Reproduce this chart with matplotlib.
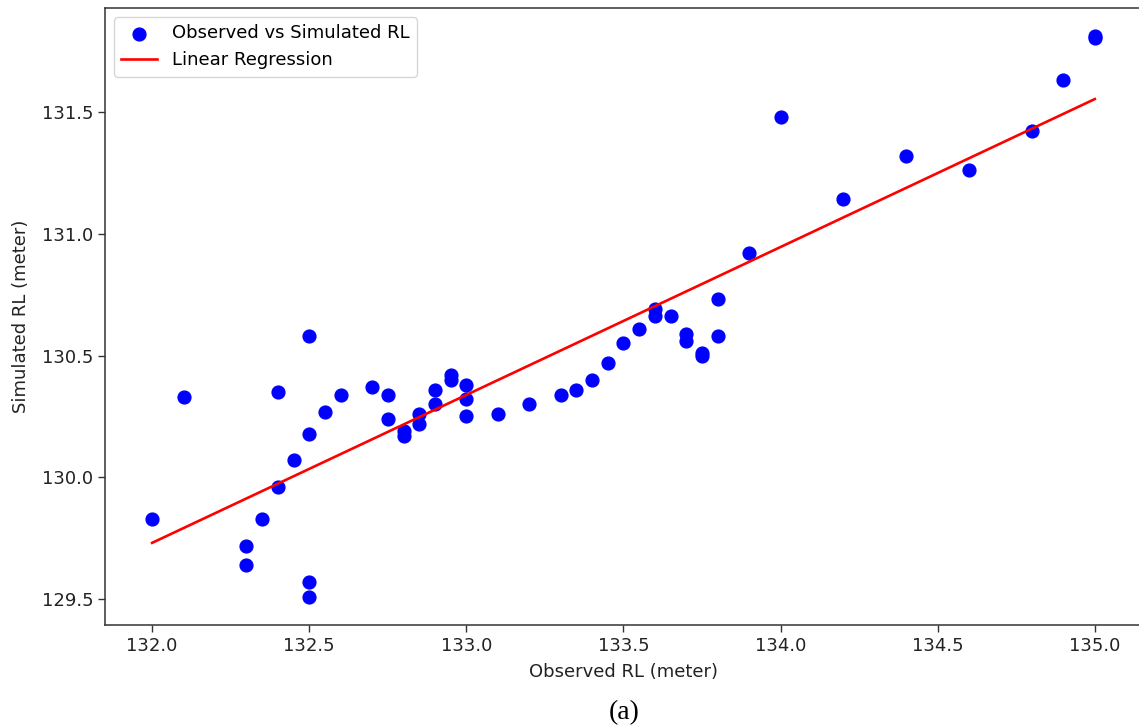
import numpy as np
import matplotlib
matplotlib.use('Agg')
import matplotlib.pyplot as plt


# observed vs simulated reduced level (meter)
observed = [132.0, 132.1, 132.3, 132.3, 132.35, 132.4, 132.4, 132.45,
            132.5, 132.5, 132.5, 132.5, 132.55, 132.6, 132.7, 132.75,
            132.75, 132.8, 132.8, 132.85, 132.85, 132.9, 132.9, 132.95,
            132.95, 133.0, 133.0, 133.0, 133.1, 133.2, 133.3, 133.35,
            133.4, 133.45, 133.5, 133.55, 133.6, 133.6, 133.65, 133.7,
            133.7, 133.75, 133.75, 133.8, 133.8, 133.9, 134.0, 134.2,
            134.4, 134.6, 134.8, 134.9, 135.0, 135.0]
simulated = [129.83, 130.33, 129.72, 129.64, 129.83, 130.35, 129.96, 130.07,
             130.58, 130.18, 129.57, 129.51, 130.27, 130.34, 130.37, 130.34,
             130.24, 130.19, 130.17, 130.26, 130.22, 130.36, 130.30, 130.42,
             130.40, 130.38, 130.32, 130.25, 130.26, 130.30, 130.34, 130.36,
             130.40, 130.47, 130.55, 130.61, 130.69, 130.66, 130.66, 130.59,
             130.56, 130.51, 130.50, 130.73, 130.58, 130.92, 131.48, 131.14,
             131.32, 131.26, 131.42, 131.63, 131.81, 131.80]

x = np.array(observed)
y = np.array(simulated)

# linear regression
slope, intercept = np.polyfit(x, y, 1)
y_pred = slope * x + intercept

plt.rcParams['font.family'] = 'DejaVu Sans'

fig = plt.figure(figsize=(11.39, 7.28), dpi=100)
ax = fig.add_axes([0.0922, 0.1415, 0.9104, 0.8475])

ax.scatter(x, y, color='blue', s=85, label='Observed vs Simulated RL', zorder=2)
ax.plot(x, y_pred, color='red', lw=1.9, label='Linear Regression', zorder=3)

ax.set_xlabel('Observed RL (meter)', fontsize=13, color='#222222', labelpad=6)
ax.set_ylabel('Simulated RL (meter)', fontsize=13, color='#222222', labelpad=8)
ax.tick_params(labelsize=13, length=5, width=1.0, colors='#333333', labelcolor='#222222')
for s in ax.spines.values():
    s.set_linewidth(1.1)
    s.set_color('#333333')

ax.set_xticks([132.0, 132.5, 133.0, 133.5, 134.0, 134.5, 135.0])
ax.set_yticks([129.5, 130.0, 130.5, 131.0, 131.5])

ax.legend(loc='upper left', fontsize=13, handletextpad=0.8, borderpad=0.4)

fig.text(0.548, 0.004, '(a)', fontsize=20, family='Liberation Serif', ha='center', va='bottom')

fig.savefig('out.png', dpi=100)
